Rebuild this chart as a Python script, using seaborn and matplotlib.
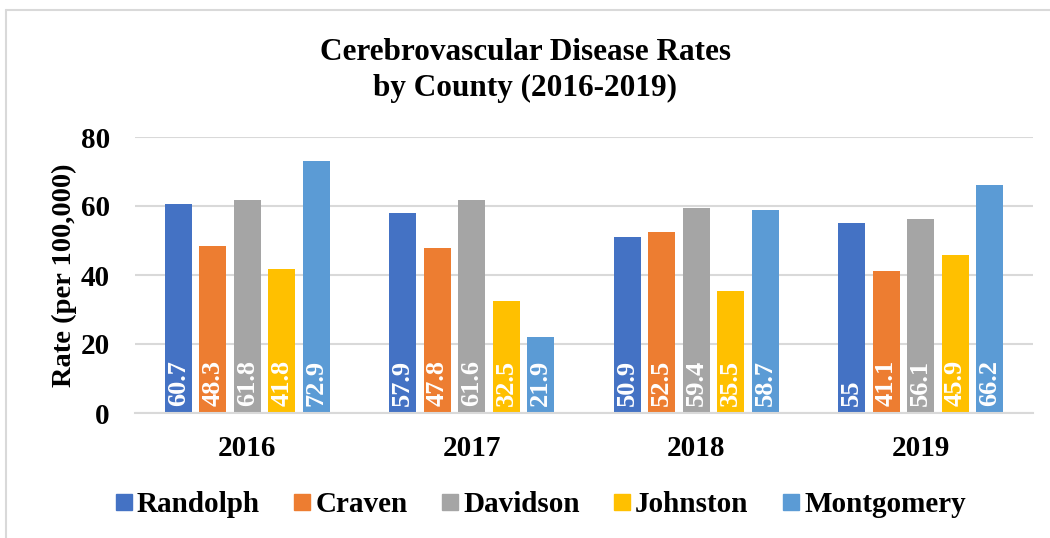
import matplotlib
matplotlib.use("Agg")
import matplotlib.pyplot as plt
import seaborn as sns
import pandas as pd
from matplotlib.lines import Line2D

years = ["2016", "2017", "2018", "2019"]
counties = ["Randolph", "Craven", "Davidson", "Johnston", "Montgomery"]
randolph = [60.7, 57.9, 50.9, 55]
craven = [48.3, 47.8, 52.5, 41.1]
davidson = [61.8, 61.6, 59.4, 56.1]
johnston = [41.8, 32.5, 35.5, 45.9]
montgomery = [72.9, 21.9, 58.7, 66.2]
labels = [["60.7", "57.9", "50.9", "55"],
          ["48.3", "47.8", "52.5", "41.1"],
          ["61.8", "61.6", "59.4", "56.1"],
          ["41.8", "32.5", "35.5", "45.9"],
          ["72.9", "21.9", "58.7", "66.2"]]
colors = ["#4472C4", "#ED7D31", "#A5A5A5", "#FFC000", "#5B9BD5"]

series = [randolph, craven, davidson, johnston, montgomery]
rows = []
for c, vals in zip(counties, series):
    for y, v in zip(years, vals):
        rows.append({"Year": y, "County": c, "Rate": v})
df = pd.DataFrame(rows)

sns.set_theme(style="white")
plt.rcParams['font.family'] = ['Liberation Serif', 'DejaVu Serif']
plt.rcParams['font.weight'] = 'bold'
plt.rcParams['text.color'] = 'black'
plt.rcParams['xtick.color'] = 'black'
plt.rcParams['ytick.color'] = 'black'
plt.rcParams['axes.labelcolor'] = 'black'

fig = plt.figure(figsize=(10.5, 5.38), dpi=100)
ax = fig.add_axes([135/1050, 1-413/538, (1033-135)/1050, (413-137)/538])

sns.barplot(data=df, x="Year", y="Rate", hue="County", order=years,
            hue_order=counties, palette=colors, width=0.768, ax=ax,
            legend=False, saturation=1, errorbar=None)

bw = 0.1216
for i, cont in enumerate(ax.containers):
    for j, p in enumerate(cont.patches):
        cx = p.get_x() + p.get_width() / 2
        p.set_x(cx - bw / 2)
        p.set_width(bw)
        p.set_edgecolor("none")
        ax.annotate(labels[i][j], xy=(cx, 0), xytext=(0, 5), textcoords="offset points",
                    rotation=90, ha="center", va="bottom", color="white",
                    fontsize=19, fontweight="bold")

ax.set_xlim(-0.5, 3.5)
ax.set_ylim(0, 80)
ax.set_yticks([0, 20, 40, 60, 80])
ax.yaxis.grid(True, color="#D9D9D9", linewidth=1.5)
ax.set_axisbelow(True)
for s in ["left", "right", "top"]:
    ax.spines[s].set_visible(False)
ax.spines["bottom"].set_color("#D9D9D9")
ax.spines["bottom"].set_linewidth(1.5)
ax.tick_params(axis="both", length=0, labelsize=21)
ax.tick_params(axis="x", pad=16)
ax.tick_params(axis="y", pad=18)
for t in ax.get_xticklabels() + ax.get_yticklabels():
    t.set_fontweight("bold")
ax.set_xlabel("")
ax.set_ylabel("Rate (per 100,000)", fontsize=20.5, fontweight="bold", labelpad=3)

fig.text(0.5, 1-52/538, "Cerebrovascular Disease Rates", ha="center", va="center",
         fontsize=22.5, fontweight="bold")
fig.text(0.5, 1-88/538, "by County (2016-2019)", ha="center", va="center",
         fontsize=22.5, fontweight="bold")

handles = [Line2D([0], [0], marker="s", linestyle="none", markersize=11,
                  markerfacecolor=c, markeredgecolor=c) for c in colors]
fig.legend(handles, counties, loc="center", bbox_to_anchor=(539/1050, 1-505/538),
           ncol=5, frameon=False, prop={"size": 21, "weight": "bold"},
           handletextpad=0.05, columnspacing=1.05, handlelength=0.8)

fig.add_artist(Line2D([6/1050, 6/1050], [0, 1-10/538], color="#D9D9D9", linewidth=1.5,
                      transform=fig.transFigure))
fig.add_artist(Line2D([6/1050, 1], [1-10/538, 1-10/538], color="#D9D9D9", linewidth=1.5,
                      transform=fig.transFigure))

fig.savefig("out.png", dpi=100)
